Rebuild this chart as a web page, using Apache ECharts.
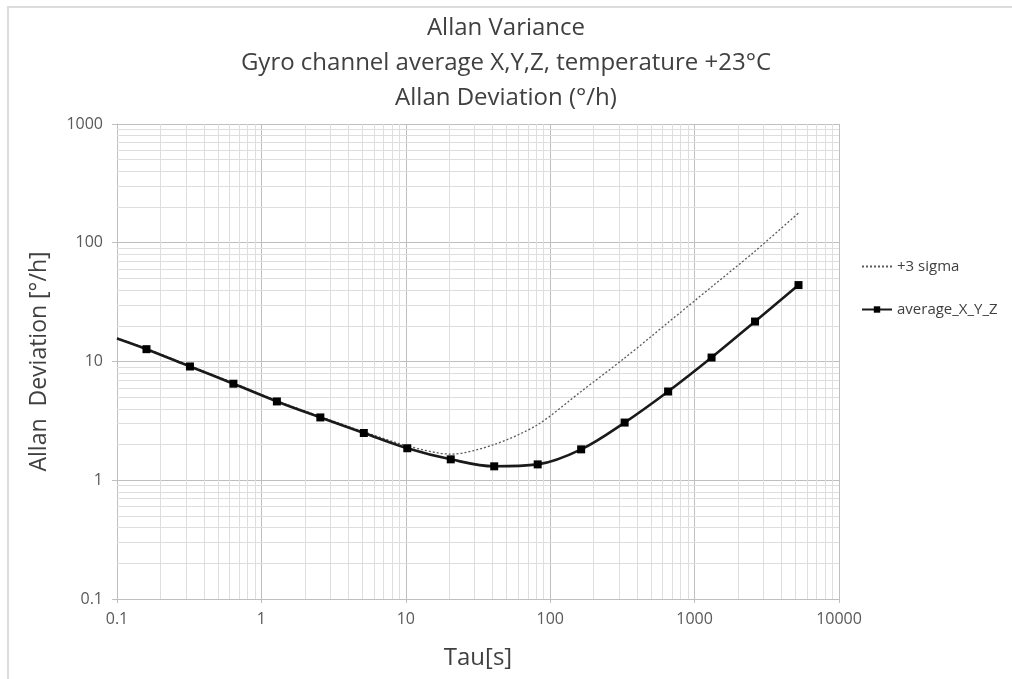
<!DOCTYPE html>
<html>
<head>
<meta charset="utf-8">
<script src="https://cdn.jsdelivr.net/npm/echarts@6/dist/echarts.min.js"></script>
<style>
  html, body { margin: 0; padding: 0; background: #fff; }
  .frame {
    position: absolute;
    left: 7px;
    top: 6px;
    width: 1100px;
    height: 800px;
    border-left: 2px solid #dcdcdc;
    border-top: 2px solid #dcdcdc;
  }
  #chart { position: absolute; left: 0; top: 0; width: 1012px; height: 679px; }
</style>
</head>
<body>
<div class="frame"></div>
<div id="chart"></div>
<script>
// tau [s] for the averaged channel
const tau = [0.1, 0.16, 0.32, 0.64, 1.28, 2.56, 5.12, 10.24, 20.48, 40.96, 81.92,
  163.84, 327.68, 655.36, 1310.72, 2621.44, 5242.88];
// Allan deviation [deg/h], average of X,Y,Z
const avgXYZ = [15.6, 12.7, 9.08, 6.5, 4.61, 3.38, 2.5, 1.86, 1.5, 1.31, 1.36,
  1.82, 3.06, 5.59, 10.8, 21.7, 44.0];
// +3 sigma band
const sigma3 = [15.8, 12.85, 9.2, 6.6, 4.68, 3.44, 2.56, 1.95, 1.66, 2.0, 2.94,
  5.6, 10.7, 21.3, 42.5, 85, 178];

const xTicks = [0.1, 1, 10, 100, 1000, 10000];
const yTicks = [0.1, 1, 10, 100, 1000];

// 2..9 inside every decade, for the light grid
function minors(ticks) {
  const out = [];
  for (let i = 0; i < ticks.length - 1; i++) {
    for (let k = 2; k <= 9; k++) out.push(ticks[i] * k);
  }
  return out;
}

const textColor = '#595959';
const font = 'Open Sans';
const plain = v => String(Number(v.toPrecision(6)));

const chart = echarts.init(document.getElementById('chart'));

const option = {
  animation: false,
  title: {
    text: 'Allan Variance\nGyro channel average X,Y,Z, temperature +23°C\nAllan Deviation (°/h)',
    left: 'center',
    top: 6,
    textStyle: {
      fontFamily: font,
      fontSize: 24,
      fontWeight: 'normal',
      color: '#404040',
      lineHeight: 35
    }
  },
  legend: {
    orient: 'vertical',
    left: 856,
    top: 254,
    itemGap: 28,
    itemWidth: 30,
    itemHeight: 8,
    data: [
      { name: '+3 sigma', itemStyle: { color: 'rgba(0,0,0,0)' } },
      'average_X_Y_Z'
    ],
    textStyle: { fontFamily: font, fontSize: 15, color: '#404040' }
  },
  grid: {
    left: 117,
    right: 173,
    top: 124,
    bottom: 80
  },
  xAxis: {
    type: 'log',
    logBase: 10,
    min: xTicks[0],
    max: xTicks[xTicks.length - 1],
    name: 'Tau[s]',
    nameLocation: 'middle',
    nameGap: 47,
    nameTextStyle: { fontFamily: font, fontSize: 24, color: '#404040' },
    axisLine: { show: true, lineStyle: { color: '#bfbfbf' } },
    axisTick: { show: true, length: 4, lineStyle: { color: '#bfbfbf' } },
    axisLabel: { fontFamily: font, fontSize: 16, color: textColor, margin: 12, formatter: plain },
    splitLine: { show: true, lineStyle: { color: '#bfbfbf' } }
  },
  yAxis: {
    type: 'log',
    logBase: 10,
    min: yTicks[0],
    max: yTicks[yTicks.length - 1],
    name: 'Allan  Deviation [°/h]',
    nameLocation: 'middle',
    nameGap: 66,
    nameTextStyle: { fontFamily: font, fontSize: 23, color: '#404040' },
    axisLine: { show: true, lineStyle: { color: '#bfbfbf' } },
    axisTick: { show: true, length: 5, lineStyle: { color: '#bfbfbf' } },
    axisLabel: { fontFamily: font, fontSize: 16, color: textColor, margin: 14, formatter: plain },
    splitLine: { show: true, lineStyle: { color: '#bfbfbf' } }
  },
  series: [
    {
      name: 'minor grid',
      type: 'line',
      data: [],
      silent: true,
      markLine: {
        z: 1,
        silent: true,
        symbol: 'none',
        label: { show: false },
        lineStyle: { color: '#dedede', type: 'solid', width: 1 },
        data: minors(xTicks).map(v => ({ xAxis: v }))
          .concat(minors(yTicks).map(v => ({ yAxis: v })))
      }
    },
    {
      name: '+3 sigma',
      type: 'line',
      smooth: 0.3,
      showSymbol: false,
      symbol: 'none',
      z: 3,
      data: tau.map((t, i) => [t, sigma3[i]]),
      lineStyle: { color: '#5a5a5a', width: 1.3, type: [2, 2] },
      itemStyle: { color: '#5a5a5a' }
    },
    {
      name: 'average_X_Y_Z',
      type: 'line',
      smooth: 0.35,
      symbol: 'rect',
      symbolSize: 8,
      z: 4,
      data: tau.map((t, i) => i === 0 ? { value: [t, avgXYZ[i]], symbol: 'none' } : [t, avgXYZ[i]]),
      lineStyle: { color: '#1a1a1a', width: 2.6 },
      itemStyle: { color: '#000' }
    }
  ]
};

chart.setOption(option);
</script>
</body>
</html>
